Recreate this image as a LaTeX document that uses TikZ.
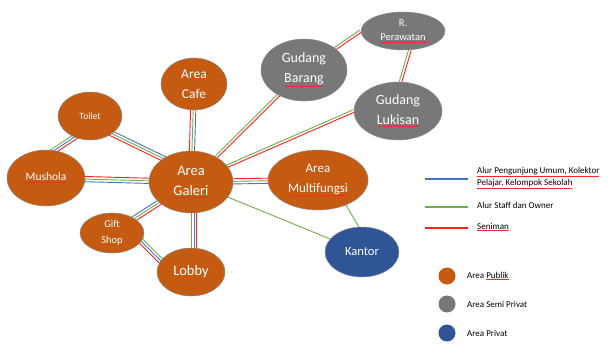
\documentclass[tikz,border=0pt]{standalone}
\usepackage{fontspec}
\setmainfont{Carlito}
\usetikzlibrary{calc,backgrounds,shapes.geometric}
\definecolor{pubF}{RGB}{197,90,17}
\definecolor{semiF}{RGB}{120,120,120}
\definecolor{privF}{RGB}{47,85,151}
\definecolor{lnB}{RGB}{68,114,196}
\definecolor{lnG}{RGB}{112,173,71}
\definecolor{lnR}{RGB}{255,30,30}
\newcommand\sq[1]{\begingroup\colorlet{sqc}{.}\textcolor{red!85!white}{\underline{\textcolor{sqc}{#1}}}\endgroup}
\newcommand\flowsep{2.6pt}
\newcommand\flow[3]{%
  \foreach \fc/\fo in {#3}{%
    \draw[flowline,\fc] ($(#1)!\fo*\flowsep!90:(#2)$) -- ($(#2)!\fo*\flowsep!-90:(#1)$);
  }}
\tikzset{
  area/.style={ellipse, draw=black!45, line width=0.5pt, inner sep=0pt, text=white, align=center},
  pub/.style={area, fill=pubF},
  semi/.style={area, fill=semiF},
  priv/.style={area, fill=privF},
  flowline/.style={line width=0.9pt},
  legline/.style={line width=1.2pt},
  legtext/.style={anchor=west, inner sep=0pt, align=left, font={\fontsize{9}{12}\selectfont}},
  legdot/.style={circle, minimum size=17pt, inner sep=0pt},
}
\begin{document}
\begin{tikzpicture}[x=1pt,y=-1pt]
\useasboundingbox (0,0) rectangle (613,345);
% nodes
\node[pub, minimum width=84pt, minimum height=62pt, font={\fontsize{14.5}{20}\selectfont}] (galeri) at (191,182) {Area\\\sq{Galeri}};
\node[pub, minimum width=78pt, minimum height=56pt, font={\fontsize{11.5}{14}\selectfont}] (mushola) at (46,178) {\sq{Mushola}};
\node[pub, minimum width=64pt, minimum height=48pt, font={\fontsize{9.5}{12}\selectfont}] (toilet) at (90,116) {Toilet};
\node[pub, minimum width=64pt, minimum height=40pt, font={\fontsize{10.5}{16}\selectfont}] (gift) at (112,233) {Gift\\Shop};
\node[pub, minimum width=68pt, minimum height=48pt, font={\fontsize{14.5}{18}\selectfont}] (lobby) at (191,272) {Lobby};
\node[pub, minimum width=66pt, minimum height=52pt, font={\fontsize{13.5}{20}\selectfont}] (cafe) at (194,84) {Area\\Cafe};
\node[pub, minimum width=100pt, minimum height=60pt, font={\fontsize{13}{20}\selectfont}] (multi) at (318,180) {Area\\\sq{Multifungsi}};
\node[semi, minimum width=86pt, minimum height=62pt, font={\fontsize{14}{20}\selectfont}] (barang) at (304,70) {Gudang\\\sq{Barang}};
\node[semi, minimum width=84pt, minimum height=38pt, font={\fontsize{10.5}{14}\selectfont}] (perawatan) at (403,31) {R.\\\sq{Perawatan}};
\node[semi, minimum width=88pt, minimum height=58pt, font={\fontsize{14}{20}\selectfont}] (lukisan) at (398,111) {Gudang\\\sq{Lukisan}};
\node[priv, minimum width=74pt, minimum height=50pt, font={\fontsize{12.5}{15}\selectfont}] (kantor) at (362,252) {Kantor};
% helper coordinates
\coordinate (tg1) at (90,123);
\coordinate (tg2) at (191,172);
\coordinate (tm1) at (40,160);
\coordinate (tm2) at (85,130);
\coordinate (gl1) at (125,225);
\coordinate (gl2) at (175,275);
\coordinate (lg1) at (194,272);
\coordinate (lg2) at (194,182);
% connectors
\begin{scope}[on background layer]
\flow{mushola.center}{galeri.center}{lnR/1,lnG/0,lnB/-1}
\flow{galeri.center}{cafe.center}{lnR/1,lnG/0,lnB/-1}
\flow{tg1}{tg2}{lnB/1,lnG/0,lnR/-1}
\flow{tm1}{tm2}{lnG/1,lnB/0,lnR/-1}
\flow{galeri.center}{multi.center}{lnR/1,lnG/0,lnB/-1}
\flow{gift.center}{galeri.center}{lnB/1,lnG/0,lnR/-1}
\flow{gl1}{gl2}{lnG/1,lnB/0,lnR/-1}
\flow{lg1}{lg2}{lnG/1,lnB/0,lnR/-1}
\flow{galeri.center}{barang.center}{lnG/0.5,lnR/-0.5}
\flow{galeri.center}{lukisan.west}{lnG/0.5,lnR/-0.5}
\flow{barang.center}{perawatan.west}{lnG/0.5,lnR/-0.5}
\flow{lukisan.85}{perawatan.-70}{lnG/0.5,lnR/-0.5}
\flow{galeri.center}{kantor.center}{lnG/0}
\flow{multi.-42}{kantor.97}{lnG/0}
\end{scope}
% legend
\coordinate (lb1) at (425,179); \coordinate (lb2) at (468,179);
\coordinate (lgr1) at (425,207); \coordinate (lgr2) at (468,207);
\coordinate (lr1) at (425,228); \coordinate (lr2) at (468,228);
\draw[legline,lnB] (lb1) -- (lb2);
\draw[legline,lnG] (lgr1) -- (lgr2);
\draw[legline,lnR] (lr1) -- (lr2);
\node[legtext] (t1) at (477,178) {\sq{Alur Pengunjung Umum, Kolektor}\\\sq{Pelajar, Kelompok Sekolah}};
\node[legtext] (t2) at (477,205) {Alur Staff dan Owner};
\node[legtext] (t3) at (477,227) {\sq{Seniman}};
\node[legdot, fill=pubF] (d1) at (447,276) {};
\node[legdot, fill=semiF] (d2) at (447,304) {};
\node[legdot, fill=privF] (d3) at (447,333) {};
\node[legtext] (e1) at (467,276) {Area \sq{Publik}};
\node[legtext] (e2) at (467,304) {Area Semi Privat};
\node[legtext] (e3) at (467,333) {Area Privat};
\end{tikzpicture}
\end{document}
